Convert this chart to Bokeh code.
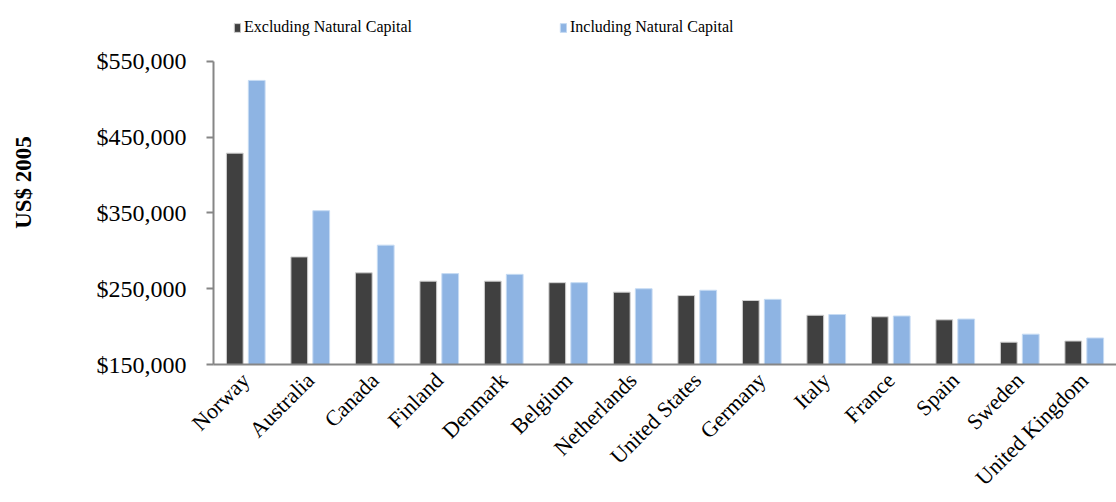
from bokeh.plotting import figure
from bokeh.models import ColumnDataSource, FactorRange, NumeralTickFormatter, FixedTicker, Legend, LegendItem, Range1d
from bokeh.transform import dodge
from bokeh.embed import file_html
from bokeh.resources import INLINE
import math

countries = ["Norway", "Australia", "Canada", "Finland", "Denmark", "Belgium", "Netherlands",
             "United States", "Germany", "Italy", "France", "Spain", "Sweden", "United Kingdom"]
excluding = [429000, 292000, 271000, 260000, 260000, 258000, 245500,
             241000, 234500, 215000, 213000, 209000, 179500, 181000]
including = [525000, 353000, 307500, 270000, 269000, 258000, 250000,
             248000, 236000, 216000, 214000, 210000, 190000, 185000]
y_ticks = [150000, 250000, 350000, 450000, 550000]

src = ColumnDataSource(dict(country=countries, excl=excluding, incl=including))

FONT = "Liberation Serif"

p = figure(width=1116, height=502, x_range=FactorRange(*countries, range_padding=0),
           y_range=Range1d(150000, 630500), output_backend="svg", toolbar_location=None,
           min_border_left=213, min_border_right=0, min_border_top=0, min_border_bottom=138)
p.outline_line_color = None
p.xgrid.grid_line_color = None
p.ygrid.grid_line_color = None

r1 = p.vbar(x=dodge("country", -0.17, range=p.x_range), top="excl", bottom=150000, width=0.26,
            source=src, fill_color="#404040", line_color="#d0d0d0", line_width=1)
r2 = p.vbar(x=dodge("country", 0.17, range=p.x_range), top="incl", bottom=150000, width=0.26,
            source=src, fill_color="#8EB4E3", line_color="#c6dbf3", line_width=1)

# y axis
p.yaxis.bounds = (150000, 550000)
p.yaxis.ticker = FixedTicker(ticks=y_ticks)
p.yaxis.formatter = NumeralTickFormatter(format="$0,0")
p.yaxis.axis_line_color = "#868686"
p.yaxis.axis_line_width = 2
p.yaxis.major_tick_line_color = "#868686"
p.yaxis.major_tick_line_width = 2
p.yaxis.major_tick_out = 7
p.yaxis.major_tick_in = 0
p.yaxis.minor_tick_line_color = None
p.yaxis.major_label_text_font = FONT
p.yaxis.major_label_text_font_size = "24px"
p.yaxis.major_label_text_color = "#000000"
p.yaxis.major_label_standoff = 20
p.yaxis.axis_label = "US$ 2005"
p.yaxis.axis_label_text_font = FONT
p.yaxis.axis_label_text_font_style = "bold"
p.yaxis.axis_label_text_font_size = "23px"
p.yaxis.axis_label_text_color = "#000000"
p.yaxis.axis_label_standoff = 58

# x axis
p.xaxis.axis_line_color = "#868686"
p.xaxis.axis_line_width = 2
p.xaxis.major_tick_line_color = None
p.xaxis.minor_tick_line_color = None
p.xaxis.major_label_orientation = math.pi / 4
p.xaxis.major_label_text_font = FONT
p.xaxis.major_label_text_font_size = "22px"
p.xaxis.major_label_text_color = "#000000"
p.xaxis.major_label_standoff = 6

legend = Legend(items=[LegendItem(label="Excluding Natural Capital", renderers=[r1]),
                       LegendItem(label="Including Natural Capital", renderers=[r2])],
                orientation="horizontal", location=(20, 328))
legend.label_text_font = FONT
legend.label_text_font_size = "16px"
legend.label_text_color = "#000000"
legend.glyph_width = 8
legend.glyph_height = 11
legend.label_standoff = 3
legend.spacing = 147
legend.padding = 8
legend.margin = 0
legend.border_line_color = None
legend.background_fill_alpha = 0
p.add_layout(legend, "center")

open("out.html", "w").write(file_html(p, INLINE))
